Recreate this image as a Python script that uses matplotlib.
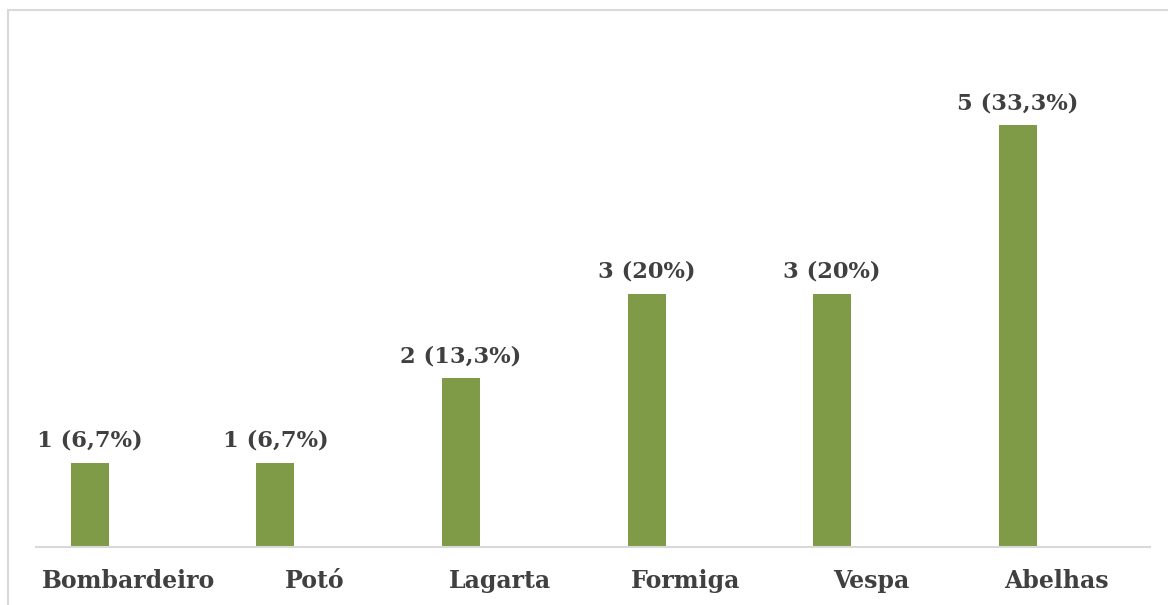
import matplotlib.pyplot as plt
from matplotlib.lines import Line2D
import numpy as np

categories = ['Bombardeiro', 'Potó', 'Lagarta', 'Formiga', 'Vespa', 'Abelhas']
counts = [1, 1, 2, 3, 3, 5]
labels = ['1 (6,7%)', '1 (6,7%)', '2 (13,3%)', '3 (20%)', '3 (20%)', '5 (33,3%)']

bar_color = '#7F9B48'
text_color = '#404040'
grid_color = '#D9D9D9'

fig = plt.figure(figsize=(11.68, 6.05), dpi=100)
ax = fig.add_axes([36 / 1168, 58 / 605, 1113.6 / 1168, 506 / 605])

x = np.arange(len(categories))
offset = -0.21
bars = ax.bar(x + offset, counts, width=0.205, color=bar_color)

for rect, lab in zip(bars, labels):
    ax.annotate(lab, (rect.get_x() + rect.get_width() / 2, rect.get_height()),
                xytext=(0, 8), textcoords='offset points', ha='center', va='bottom',
                fontsize=16.3, fontweight='bold', family='DejaVu Serif', color=text_color)

ax.set_xlim(-0.5, len(categories) - 0.5)
ax.set_ylim(0, 6)
ax.set_xticks(x)
ax.set_xticklabels(categories, fontsize=17, fontweight='bold', family='DejaVu Serif',
                   color=text_color)
ax.tick_params(axis='x', length=0, pad=16)
ax.set_yticks([])
for side in ['top', 'right', 'left']:
    ax.spines[side].set_visible(False)
ax.spines['bottom'].set_color(grid_color)
ax.spines['bottom'].set_linewidth(1.5)

# chart border (only top and left edges visible in the crop)
fig.add_artist(Line2D([8 / 1168, 8 / 1168], [0, 1 - 10 / 605], color=grid_color, lw=1.5))
fig.add_artist(Line2D([8 / 1168, 1], [1 - 10 / 605, 1 - 10 / 605], color=grid_color, lw=1.5))

fig.savefig('out.png', dpi=100)
